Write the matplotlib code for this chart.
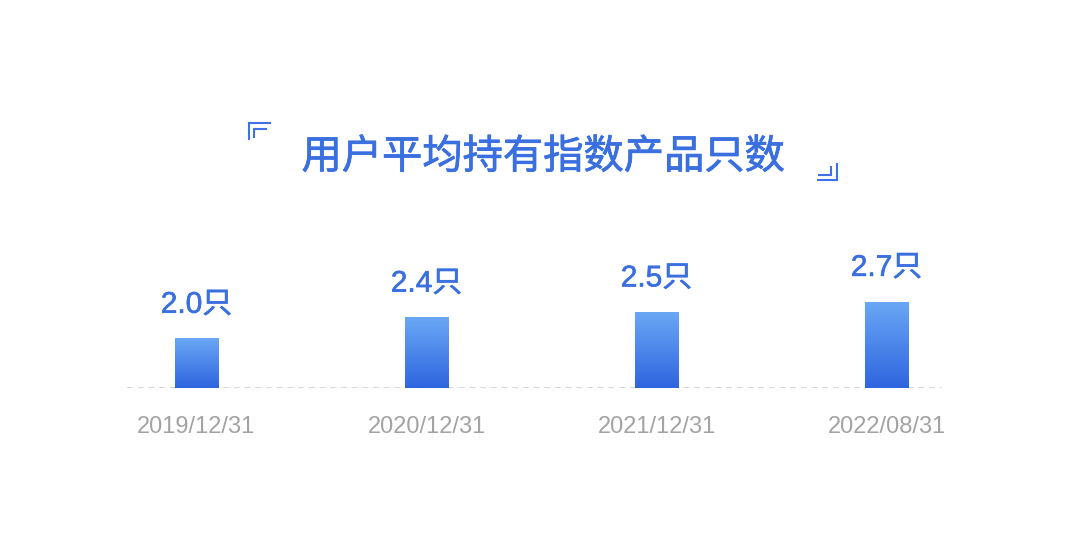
import numpy as np
import matplotlib.pyplot as plt
import matplotlib.patheffects as pe
from matplotlib.lines import Line2D
from matplotlib.colors import LinearSegmentedColormap

plt.rcParams['font.family'] = ['Noto Sans CJK SC', 'DejaVu Sans']

# data
dates = ['2019/12/31', '2020/12/31', '2021/12/31', '2022/08/31']
avg_counts = [2.0, 2.4, 2.5, 2.7]
unit = '只'
title = '用户平均持有指数产品只数'

W, H = 1080, 544
blue = '#3a6fe0'
fig = plt.figure(figsize=(W / 100, H / 100), dpi=100)

# plot area: baseline at 388px from top, spans 127..942px horizontally
ax = fig.add_axes([127 / W, (H - 388) / H, (942 - 127) / W, 188 / H])
base = 1.06

x = np.arange(len(dates))
bars = ax.bar(x, avg_counts, width=0.187, color='none', zorder=2)

# vertical gradient inside each bar
cmap = LinearSegmentedColormap.from_list('bar', ['#2e65df', '#6aa8f5'])
grad = np.linspace(0, 1, 256).reshape(-1, 1)
for b in bars:
    x0, w, h = b.get_x(), b.get_width(), b.get_height()
    im = ax.imshow(grad, extent=(x0, x0 + w, base, h), origin='lower',
                   cmap=cmap, aspect='auto', zorder=2)
    im.set_clip_path(b)

# regular weight thickened a little to look like a medium weight
medium = [pe.withStroke(linewidth=0.45, foreground=blue)]
for xi, v in zip(x, avg_counts):
    ax.annotate(f'{v:.1f}{unit}', (xi, v), xytext=(0, 18.5), textcoords='offset points',
                ha='center', va='baseline', fontsize=21.5, color=blue,
                family=['Liberation Sans', 'Noto Sans CJK SC'], path_effects=medium)

ax.axhline(base, color='#cdcdcd', lw=1.1, ls=(0, (4, 3)), zorder=1)

ax.set_xlim(-0.302, 3.241)
ax.set_ylim(base, base + 188 / 52.7)
ax.set_xticks(x, dates)
ax.set_yticks([])
ax.tick_params(axis='x', length=0, pad=20, labelsize=17, labelcolor='#a3a3a3')
for lbl in ax.get_xticklabels():
    lbl.set_family(['Liberation Sans', 'DejaVu Sans'])
for s in ax.spines.values():
    s.set_visible(False)

fig.text(543 / W, 1 - 157 / H, title, ha='center', va='center',
         fontsize=29, color=blue, path_effects=[pe.withStroke(linewidth=0.55, foreground=blue)])


# corner brackets around the title (pixel coords from top-left)
def px_line(xs, ys):
    fig.add_artist(Line2D([v / W for v in xs], [1 - v / H for v in ys],
                          transform=fig.transFigure, color='#3f72e6', lw=1.5,
                          solid_joinstyle='miter', solid_capstyle='butt'))


px_line([248.5, 248.5, 271], [140, 122.5, 122.5])
px_line([254.5, 254.5, 267], [138, 128.5, 128.5])
px_line([817, 837.5, 837.5], [180, 180, 163])
px_line([818, 831, 831], [175, 175, 166])

fig.savefig('out.png', dpi=100, facecolor='white')
